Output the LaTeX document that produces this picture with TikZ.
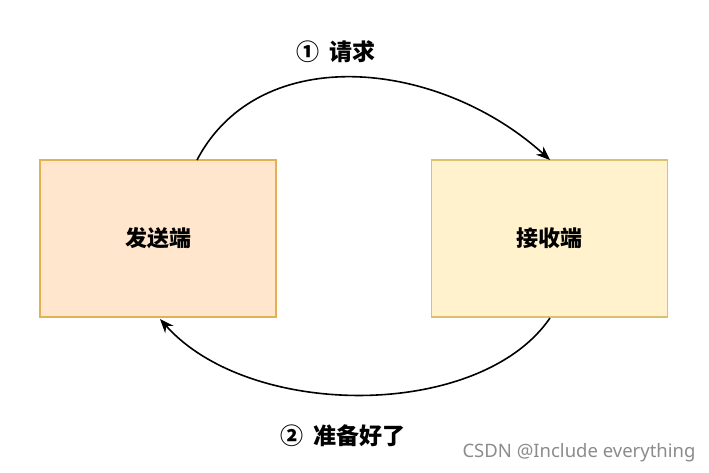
\documentclass[tikz,border=0pt]{standalone}
\usepackage{fontspec}
\setmainfont{Noto Sans}
\newfontfamily\cjk{Noto Sans CJK SC}
\usetikzlibrary{arrows.meta}
\definecolor{sendfill}{HTML}{FFE6CC}
\definecolor{senddraw}{HTML}{E3B154}
\definecolor{recvfill}{HTML}{FFF2CC}
\definecolor{recvdraw}{HTML}{DDC06E}
\tikzset{
  box/.style={draw, line width=1.8pt, minimum width=236pt, minimum height=157pt, inner sep=0pt, font=\cjk\bfseries\fontsize{22}{26}\selectfont},
  conn/.style={line width=1.6pt, -{Stealth[length=14pt,width=11pt]}},
  lbl/.style={font=\cjk\bfseries\fontsize{23}{27}\selectfont, inner sep=0pt},
}
\begin{document}
\begin{tikzpicture}[x=1pt,y=-1pt]
\useasboundingbox[fill=white] (0,0) rectangle (709,473);
\node[box, fill=sendfill, draw=senddraw] (send) at (158,238.5) {发送端};
\node[box, fill=recvfill, draw=recvdraw] (recv) at (549.5,238.5) {接收端};
\coordinate (s1) at (197,160);
\coordinate (r1) at (550,160);
\coordinate (r2) at (550,318);
\coordinate (s2) at (160,319);
\draw[conn] (s1) .. controls (260,40) and (440,60) .. (r1);
\draw[conn] (r2) .. controls (480,420) and (250,420) .. (s2);
\node[lbl] (l1) at (336,52) {①\hspace{0.4em}请求};
\node[lbl] (l2) at (343,436) {②\hspace{0.4em}准备好了};
\node[font=\fontsize{18.5}{22}\selectfont, text=black!45, inner sep=0pt] (wm) at (579,453) {CSDN @Include everything};
\end{tikzpicture}
\end{document}
